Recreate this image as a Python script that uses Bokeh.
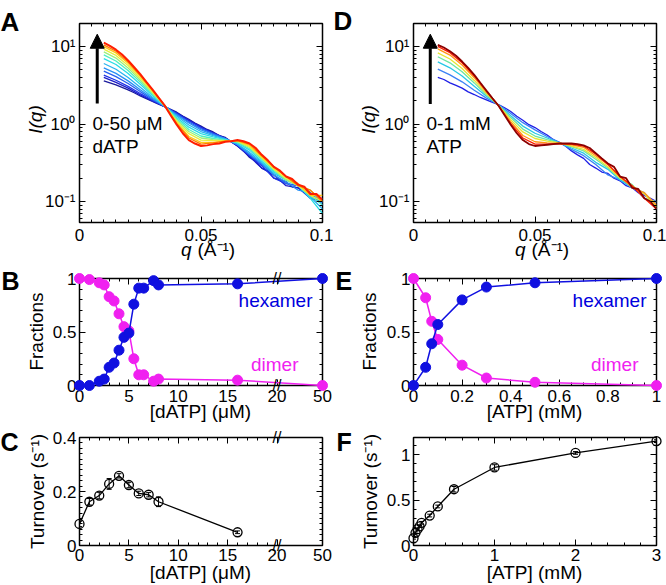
import math
from bokeh.plotting import figure
from bokeh.models import (Range1d, FixedTicker, LinearAxis, LogAxis, Arrow, NormalHead,
                          Whisker, TeeHead, ColumnDataSource, CustomJSTickFormatter)
from bokeh.layouts import column, row
from bokeh.embed import file_html
from bokeh.resources import INLINE
from bokeh.core.properties import value

FONT = "Liberation Sans"
BLUE = "#1010e0"
MAGENTA = "#f020f0"

# ---------------- data ----------------
q_fine = [0.0100, 0.0125, 0.0150, 0.0175, 0.0200, 0.0225, 0.0250, 0.0275, 0.0300, 0.0325,
          0.0350, 0.0375, 0.0400, 0.0425, 0.0450, 0.0475, 0.0500, 0.0525, 0.0550, 0.0575,
          0.0600, 0.0625, 0.0650, 0.0675, 0.0700, 0.0725, 0.0750, 0.0775, 0.0800, 0.0825,
          0.0850, 0.0875, 0.0900, 0.0925, 0.0950, 0.0975, 0.1000]
q_coarse = [0.010, 0.015, 0.020, 0.025, 0.030, 0.035, 0.040, 0.045, 0.050, 0.055,
            0.060, 0.065, 0.070, 0.075, 0.080, 0.085, 0.090, 0.095, 0.100]

# Panel A: SAXS, 0-50 uM dATP (blue -> red)
A_w000 = [3.6, 3.4, 3.2, 2.97, 2.75, 2.53, 2.3, 2.12, 1.95, 1.8, 1.68, 1.55, 1.42, 1.27, 1.15,
          1.03, 0.94, 0.85, 0.79, 0.71, 0.67, 0.59, 0.52, 0.45, 0.37, 0.33, 0.27, 0.25, 0.20,
          0.19, 0.18, 0.155, 0.15, 0.135, 0.12, 0.105, 0.10]
A_w004 = [3.99, 3.44, 2.90, 2.38, 1.98, 1.68, 1.38, 1.12, 0.91, 0.77, 0.66, 0.52, 0.38, 0.27, 0.22, 0.16, 0.15, 0.11, 0.10]
A_w008 = [4.28, 3.67, 3.06, 2.47, 2.02, 1.69, 1.37, 1.10, 0.90, 0.76, 0.65, 0.53, 0.39, 0.29, 0.20, 0.17, 0.16, 0.13, 0.09]
A_w015 = [4.80, 4.09, 3.33, 2.62, 2.08, 1.69, 1.34, 1.06, 0.87, 0.75, 0.65, 0.54, 0.40, 0.30, 0.22, 0.17, 0.16, 0.11, 0.11]
A_w022 = [5.31, 4.50, 3.60, 2.76, 2.14, 1.70, 1.31, 1.03, 0.84, 0.73, 0.65, 0.54, 0.41, 0.31, 0.22, 0.18, 0.14, 0.13, 0.095]
A_w032 = [6.04, 5.09, 3.98, 2.97, 2.22, 1.70, 1.27, 0.97, 0.80, 0.71, 0.64, 0.55, 0.43, 0.32, 0.23, 0.19, 0.16, 0.115, 0.08]
A_w045 = [6.99, 5.86, 4.48, 3.25, 2.33, 1.71, 1.21, 0.91, 0.75, 0.68, 0.63, 0.57, 0.46, 0.33, 0.24, 0.19, 0.16, 0.11, 0.07]
A_w056 = [7.79, 6.50, 4.91, 3.48, 2.43, 1.72, 1.17, 0.85, 0.70, 0.65, 0.62, 0.58, 0.48, 0.35, 0.25, 0.19, 0.17, 0.12, 0.09]
A_w066 = [8.52, 7.09, 5.29, 3.69, 2.51, 1.73, 1.12, 0.80, 0.66, 0.63, 0.61, 0.59, 0.50, 0.36, 0.26, 0.19, 0.16, 0.14, 0.10]
A_w076 = [9.25, 7.68, 5.68, 3.90, 2.60, 1.73, 1.08, 0.75, 0.62, 0.61, 0.61, 0.60, 0.51, 0.37, 0.26, 0.20, 0.16, 0.12, 0.10]
A_w086 = [9.98, 8.27, 6.06, 4.11, 2.68, 1.74, 1.04, 0.69, 0.58, 0.58, 0.60, 0.61, 0.53, 0.38, 0.27, 0.21, 0.17, 0.12, 0.12]
A_w093 = [10.49, 8.69, 6.33, 4.25, 2.74, 1.75, 1.01, 0.66, 0.55, 0.57, 0.60, 0.61, 0.55, 0.39, 0.28, 0.21, 0.16, 0.14, 0.10]
A_w100 = [11.2, 10.2, 9.1, 7.9, 6.6, 5.4, 4.4, 3.5, 2.8, 2.2, 1.74, 1.3, 0.98, 0.76, 0.62, 0.56,
          0.52, 0.53, 0.55, 0.56, 0.59, 0.6, 0.62, 0.6, 0.56, 0.49, 0.40, 0.34, 0.28, 0.25,
          0.21, 0.195, 0.165, 0.155, 0.125, 0.125, 0.105]

# Panel D: SAXS, 0-1 mM ATP
D_w000 = [4.0, 3.75, 3.4, 3.15, 2.9, 2.6, 2.4, 2.2, 2.05, 1.9, 1.78, 1.62, 1.45, 1.26, 1.12,
          0.98, 0.9, 0.8, 0.72, 0.63, 0.58, 0.52, 0.45, 0.4, 0.36, 0.3, 0.27, 0.24, 0.23, 0.2,
          0.185, 0.16, 0.15, 0.13, 0.12, 0.11, 0.10]
D_w017 = [5.11, 4.30, 3.50, 2.72, 2.16, 1.77, 1.37, 1.04, 0.84, 0.69, 0.58, 0.47, 0.39, 0.30, 0.22, 0.19, 0.16, 0.11, 0.095]
D_w036 = [6.34, 5.31, 4.16, 3.08, 2.28, 1.76, 1.28, 0.94, 0.76, 0.66, 0.57, 0.49, 0.42, 0.32, 0.26, 0.19, 0.15, 0.13, 0.08]
D_w052 = [7.38, 6.16, 4.72, 3.39, 2.39, 1.75, 1.21, 0.86, 0.70, 0.63, 0.57, 0.51, 0.45, 0.35, 0.27, 0.20, 0.165, 0.11, 0.10]
D_w066 = [8.29, 6.90, 5.21, 3.65, 2.48, 1.74, 1.14, 0.79, 0.65, 0.60, 0.57, 0.52, 0.47, 0.37, 0.28, 0.20, 0.16, 0.125, 0.085]
D_w082 = [9.33, 7.75, 5.77, 3.96, 2.58, 1.73, 1.07, 0.71, 0.59, 0.57, 0.56, 0.54, 0.50, 0.39, 0.30, 0.21, 0.15, 0.13, 0.09]
D_w093 = [10.05, 8.33, 6.16, 4.17, 2.66, 1.72, 1.01, 0.66, 0.55, 0.55, 0.56, 0.55, 0.52, 0.41, 0.30, 0.21, 0.16, 0.11, 0.08]
D_w100 = [10.5, 9.7, 8.7, 7.6, 6.4, 5.3, 4.3, 3.4, 2.7, 2.15, 1.72, 1.3, 0.98, 0.76, 0.62, 0.55,
          0.52, 0.53, 0.54, 0.55, 0.56, 0.56, 0.56, 0.55, 0.53, 0.49, 0.42, 0.36, 0.31, 0.28,
          0.21, 0.20, 0.15, 0.145, 0.11, 0.10, 0.08]

# Panel B: fractions vs dATP (uM)
dATP_frac = [0, 1, 2, 2.5, 3, 3.5, 4, 4.5, 5, 5.5, 6, 6.5, 7.5, 8, 16, 50]
hex_dATP = [0.0, 0.0, 0.04, 0.06, 0.17, 0.21, 0.33, 0.45, 0.49, 0.76, 0.91, 0.91, 0.98, 0.94, 0.95, 1.0]
dim_dATP = [1.0, 0.99, 0.96, 0.94, 0.83, 0.79, 0.67, 0.55, 0.51, 0.25, 0.10, 0.10, 0.04, 0.06, 0.05, 0.0]

# Panel C: turnover vs dATP (uM)
dATP_turn = [0, 1, 2, 3, 4, 5, 6, 7, 8, 16]
turn_dATP = [0.080, 0.162, 0.185, 0.228, 0.258, 0.224, 0.193, 0.188, 0.162, 0.049]
err_dATP = [0.010, 0.012, 0.012, 0.020, 0.008, 0.010, 0.008, 0.008, 0.018, 0.005]

# Panel E: fractions vs ATP (mM)
ATP_frac = [0, 0.05, 0.075, 0.1, 0.2, 0.3, 0.5, 1.0]
hex_ATP = [0.0, 0.17, 0.39, 0.57, 0.80, 0.92, 0.96, 1.0]
dim_ATP = [1.0, 0.82, 0.60, 0.43, 0.19, 0.07, 0.03, 0.0]

# Panel F: turnover vs ATP (mM)
ATP_turn = [0, 0.025, 0.05, 0.075, 0.1, 0.2, 0.3, 0.5, 1, 2, 3]
turn_ATP = [0.08, 0.14, 0.18, 0.21, 0.25, 0.33, 0.43, 0.62, 0.86, 1.02, 1.15]
err_ATP = [0.01, 0.01, 0.01, 0.01, 0.015, 0.015, 0.015, 0.03, 0.03, 0.015, 0.015]

# tick labels
log_ticks = [0.1, 1, 10]
log_labels = ["10\u207b\u00b9", "10\u2070", "10\u00b9"]

# ---------------- styles ----------------
A_colors = ["#1a1a9c", "#1c1cc8", "#1e32e6", "#2860f0", "#2890f5", "#28b4f0", "#28dce6",
            "#50f0c0", "#9cf07a", "#e6f03c", "#ffc814", "#ff7800", "#ff1e00"]
D_colors = ["#1e1ee6", "#3c82f5", "#28c8e6", "#6ee6a0", "#e6e632", "#ff9614", "#ff1e00", "#8c0000"]


def brk(x):
    return x if x <= 20 else 20 + (x - 20) * 4.6 / 30


def style(ax, ticks, minor, labels, show=True, standoff=4):
    ax.ticker = FixedTicker(ticks=ticks, minor_ticks=minor)
    ax.axis_line_color = None
    ax.major_tick_in = 6
    ax.major_tick_out = 0
    ax.minor_tick_in = 3
    ax.minor_tick_out = 0
    ax.major_tick_line_color = "black"
    ax.minor_tick_line_color = "black"
    if show:
        ax.major_label_overrides = dict(zip(ticks, labels))
        ax.major_label_text_font = FONT
        ax.major_label_text_font_size = "17px"
        ax.major_label_text_color = "black"
        ax.major_label_standoff = standoff
    else:
        ax.formatter = CustomJSTickFormatter(code="return ''")
        ax.major_label_standoff = 0


LW, RW = 333, 333
H1, H2, H3 = 261, 161, 163


class Panel:
    def __init__(self, w, h, frame, xr, yr, ylog=False):
        self.fl, self.ft, self.fw, self.fh = frame
        self.xr, self.yr, self.ylog = xr, yr, ylog
        col_left = 0 if self.fl < 333 else 333
        row_top = {23: 0, 278: 261, 437: 422}[self.ft]
        bl = self.fl - col_left
        bt = self.ft - row_top
        self.p = figure(width=w, height=h, x_range=Range1d(*xr), y_range=Range1d(*yr),
                        y_axis_type="log" if ylog else "linear",
                        output_backend="svg", toolbar_location=None,
                        min_border_left=bl, min_border_right=w - bl - self.fw,
                        min_border_top=bt, min_border_bottom=h - bt - self.fh,
                        outline_line_color="black", outline_line_width=1.5,
                        background_fill_color="white", border_fill_color="white")
        self.p.xgrid.visible = False
        self.p.ygrid.visible = False

    def axes(self, xt, xminor, xlab, yt, yminor, ylab, xstand=6, ystand=4):
        p = self.p
        style(p.xaxis[0], xt, xminor, xlab, standoff=xstand)
        style(p.yaxis[0], yt, yminor, ylab, standoff=ystand)
        top = LinearAxis()
        style(top, xt, xminor, None, show=False)
        p.add_layout(top, "above")
        right = LogAxis() if self.ylog else LinearAxis()
        style(right, yt, yminor, None, show=False)
        p.add_layout(right, "right")

    def data_xy(self, xi, yi):
        x0, x1 = self.xr
        xd = x0 + (xi - self.fl) / self.fw * (x1 - x0)
        frac = (self.ft + self.fh - yi) / self.fh
        y0, y1 = self.yr
        if self.ylog:
            yd = 10 ** (math.log10(y0) + frac * (math.log10(y1) - math.log10(y0)))
        else:
            yd = y0 + frac * (y1 - y0)
        return xd, yd

    def text(self, xi, yi, txt, size=19, color="black", align="center", baseline="middle",
             angle=0.0, fstyle="normal"):
        xd, yd = self.data_xy(xi, yi)
        self.p.text(x=[xd], y=[yd], text=[txt], text_font=value(FONT),
                    text_font_size=value(f"{size}px"), text_color=color, text_align=align,
                    text_baseline=baseline, angle=angle, text_font_style=fstyle, level="overlay")

    def brk_marks(self, xd, ys):
        self.p.text(x=[xd] * len(ys), y=ys, text=["//"] * len(ys), text_font=value(FONT),
                    text_font_size=value("16px"), text_align="center", text_baseline="middle",
                    text_color="black", level="overlay")


# minor tick lists
q_minor = [i * 0.005 for i in range(1, 20) if i != 10]
log_minor = [k * 10.0 ** e for e in (-2, -1, 0, 1) for k in range(2, 10)]
frac_minor = [i / 10 for i in range(1, 10) if i != 5]
brk_minor = [i for i in range(1, 20) if i % 5 != 0]
brk_ticks = [brk(v) for v in (0, 5, 10, 15, 20, 50)]
brk_labels = ["0", "5", "10", "15", "20", "50"]
YLOG = (0.0536, 19.8)

# ---------------- panel A ----------------
A = Panel(LW, H1, (79, 23, 243, 199), (0, 0.1), YLOG, ylog=True)
A.axes([0, 0.05, 0.1], q_minor, ["0", "0.05", "0.1"], log_ticks, log_minor, log_labels)
A_curves = [A_w000, A_w004, A_w008, A_w015, A_w022, A_w032, A_w045, A_w056, A_w066,
            A_w076, A_w086, A_w093, A_w100]
for i, (ys, c) in enumerate(zip(A_curves, A_colors)):
    qs = q_fine if len(ys) == len(q_fine) else q_coarse
    A.p.line(qs, ys, line_color=c, line_width=2.0 if i == len(A_curves) - 1 else 1.3)
A.p.add_layout(Arrow(end=NormalHead(size=14, fill_color="black", line_color="black"),
                     x_start=0.0073, y_start=1.84, x_end=0.0073, y_end=14.4,
                     line_width=3, line_color="black"))
A.text(0, 21, "A", size=26, align="left", baseline="alphabetic", fstyle="bold")
A.text(35, 119, "I(q)", angle=math.pi / 2, fstyle="italic")
A.text(191, 249, "q", align="right", fstyle="italic")
A.text(197, 249, "(\u00c5\u207b\u00b9)", align="left")
A.text(92, 123, "0-50 \u03bcM", align="left")
A.text(92, 146, "dATP", align="left")

# ---------------- panel D ----------------
D = Panel(RW, H1, (413, 23, 243, 199), (0, 0.1), YLOG, ylog=True)
D.axes([0, 0.05, 0.1], q_minor, ["0", "0.05", "0.1"], log_ticks, log_minor, log_labels)
D_curves = [D_w000, D_w017, D_w036, D_w052, D_w066, D_w082, D_w093, D_w100]
for i, (ys, c) in enumerate(zip(D_curves, D_colors)):
    qs = q_fine if len(ys) == len(q_fine) else q_coarse
    D.p.line(qs, ys, line_color=c, line_width=1.8 if i == len(D_curves) - 1 else 1.3)
D.p.add_layout(Arrow(end=NormalHead(size=14, fill_color="black", line_color="black"),
                     x_start=0.0069, y_start=1.81, x_end=0.0069, y_end=14.4,
                     line_width=3, line_color="black"))
D.text(333, 20, "D", size=26, align="left", baseline="alphabetic", fstyle="bold")
D.text(368, 119, "I(q)", angle=math.pi / 2, fstyle="italic")
D.text(525, 249, "q", align="right", fstyle="italic")
D.text(531, 249, "(\u00c5\u207b\u00b9)", align="left")
D.text(426, 123, "0-1 mM", align="left")
D.text(426, 146, "ATP", align="left")

# ---------------- panel B ----------------
B = Panel(LW, H2, (79, 278, 243, 107), (0, brk(50)), (0, 1))
B.axes(brk_ticks, brk_minor, brk_labels, [0, 0.5, 1], frac_minor, ["0", "0.5", "1"], xstand=4, ystand=3)
xb = [brk(v) for v in dATP_frac]
B.p.line(xb, dim_dATP, line_color=MAGENTA, line_width=1.5, level="overlay")
B.p.scatter(xb, dim_dATP, size=10, color=MAGENTA, level="overlay")
B.p.line(xb, hex_dATP, line_color=BLUE, line_width=1.5, level="overlay")
B.p.scatter(xb, hex_dATP, size=10, color=BLUE, level="overlay")
B.brk_marks(20, [0, 1])
B.text(1, 280, "B", size=25, align="left", baseline="alphabetic", fstyle="bold")
B.text(36, 331, "Fractions", angle=math.pi / 2)
B.text(200, 411, "[dATP] (\u03bcM)")
B.text(312, 300, "hexamer", color="#0000dd", align="right")
B.text(298, 364, "dimer", color=MAGENTA, align="right")

# ---------------- panel E ----------------
E = Panel(RW, H2, (413, 278, 243, 107), (0, 1), (0, 1))
E.axes([0, 0.2, 0.4, 0.6, 0.8, 1], [i * 0.05 for i in range(1, 20) if i % 4 != 0],
       ["0", "0.2", "0.4", "0.6", "0.8", "1"], [0, 0.5, 1], frac_minor, ["0", "0.5", "1"], xstand=4, ystand=3)
E.p.line(ATP_frac, dim_ATP, line_color=MAGENTA, line_width=1.5, level="overlay")
E.p.scatter(ATP_frac, dim_ATP, size=10, color=MAGENTA, level="overlay")
E.p.line(ATP_frac, hex_ATP, line_color=BLUE, line_width=1.5, level="overlay")
E.p.scatter(ATP_frac, hex_ATP, size=10, color=BLUE, level="overlay")
E.text(335, 280, "E", size=25, align="left", baseline="alphabetic", fstyle="bold")
E.text(369, 331, "Fractions", angle=math.pi / 2)
E.text(534, 411, "[ATP] (mM)")
E.text(646, 300, "hexamer", color="#0000dd", align="right")
E.text(638, 364, "dimer", color=MAGENTA, align="right")

# ---------------- panel C ----------------
C = Panel(LW, H3, (79, 437, 243, 108), (0, brk(50)), (0, 0.4))
C.axes(brk_ticks, brk_minor, brk_labels, [0, 0.2, 0.4], [i * 0.02 for i in range(1, 20) if i % 10 != 0],
       ["0", "0.2", "0.4"], xstand=3, ystand=3)
xc = [brk(v) for v in dATP_turn]
srcC = ColumnDataSource(dict(x=xc, y=turn_dATP,
                             upper=[t + e for t, e in zip(turn_dATP, err_dATP)],
                             lower=[t - e for t, e in zip(turn_dATP, err_dATP)]))
C.p.line("x", "y", source=srcC, line_color="black", line_width=1.3, level="overlay")
C.p.add_layout(Whisker(source=srcC, base="x", upper="upper", lower="lower", line_color="black",
                       upper_head=TeeHead(size=5, line_color="black"),
                       lower_head=TeeHead(size=5, line_color="black")))
C.p.scatter("x", "y", source=srcC, size=9, fill_alpha=0, line_color="black", line_width=1.3, level="overlay")
C.brk_marks(20, [0, 0.4])
C.text(0, 441, "C", size=25, align="left", baseline="alphabetic", fstyle="bold")
C.text(37, 491, "Turnover (s\u207b\u00b9)", angle=math.pi / 2)
C.text(200, 572, "[dATP] (\u03bcM)")

# ---------------- panel F ----------------
F = Panel(RW, H3, (413, 437, 243, 108), (0, 3), (0, 1.19))
F.axes([0, 1, 2, 3], [i * 0.2 for i in range(1, 15) if i % 5 != 0], ["0", "1", "2", "3"],
       [0, 0.5, 1], [i * 0.1 for i in range(1, 12) if i % 5 != 0], ["0", "0.5", "1"], xstand=3, ystand=3)
srcF = ColumnDataSource(dict(x=ATP_turn, y=turn_ATP,
                             upper=[t + e for t, e in zip(turn_ATP, err_ATP)],
                             lower=[t - e for t, e in zip(turn_ATP, err_ATP)]))
F.p.line("x", "y", source=srcF, line_color="black", line_width=1.3, level="overlay")
F.p.add_layout(Whisker(source=srcF, base="x", upper="upper", lower="lower", line_color="black",
                       upper_head=TeeHead(size=5, line_color="black"),
                       lower_head=TeeHead(size=5, line_color="black")))
F.p.scatter("x", "y", source=srcF, size=9, fill_alpha=0, line_color="black", line_width=1.3, level="overlay")
F.text(336, 441, "F", size=25, align="left", baseline="alphabetic", fstyle="bold")
F.text(370, 491, "Turnover (s\u207b\u00b9)", angle=math.pi / 2)
F.text(534, 572, "[ATP] (mM)")

layout = column(row(A.p, D.p), row(B.p, E.p), row(C.p, F.p))
open("out.html", "w").write(file_html(layout, INLINE))
